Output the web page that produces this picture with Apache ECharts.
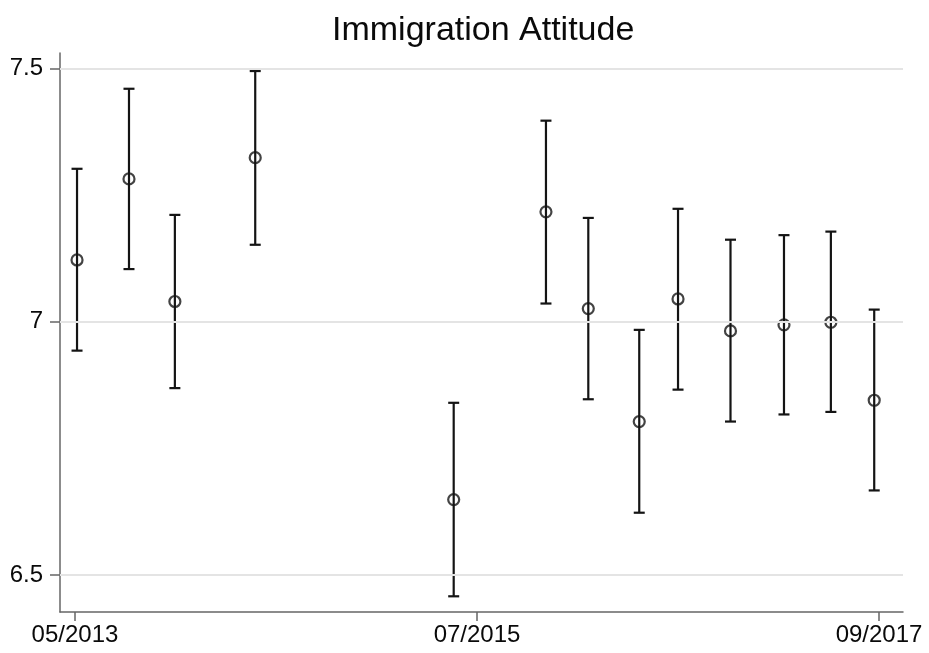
<!DOCTYPE html>
<html>
<head>
<meta charset="utf-8">
<title>Immigration Attitude</title>
<script src="https://cdn.jsdelivr.net/npm/echarts@6/dist/echarts.min.js"></script>
<style>
  html, body { margin: 0; padding: 0; background: #fff; }
  #chart { width: 929px; height: 653px; }
</style>
</head>
<body>
<div id="chart"></div>
<script>
// Survey wave dates
const waveDates = [
  '2013-05-05', '2013-08-16', '2013-11-15', '2014-04-21',
  '2015-05-16', '2015-11-15', '2016-02-07', '2016-05-16',
  '2016-08-01', '2016-11-13', '2017-02-27', '2017-05-28',
  '2017-08-22'
];
// Mean attitude score per wave
const meanScore = [
  7.122, 7.282, 7.040, 7.324,
  6.649, 7.217, 7.026, 6.803,
  7.045, 6.982, 6.994, 6.999,
  6.845
];
// 95% confidence bounds
const upperCI = [
  7.302, 7.460, 7.211, 7.495,
  6.840, 7.397, 7.205, 6.984,
  7.223, 7.162, 7.171, 7.178,
  7.024
];
const lowerCI = [
  6.943, 7.104, 6.869, 7.152,
  6.458, 7.036, 6.847, 6.623,
  6.866, 6.803, 6.817, 6.822,
  6.667
];
// Axis ticks
const xTickLabels = ['05/2013', '07/2015', '09/2017'];
const yTicks = [6.5, 7, 7.5];

// Months elapsed since May 2013
const BASE_YEAR = 2013, BASE_MONTH = 5;
function monthIndex(s) {
  const p = s.split(/[-\/]/).map(Number);
  let y, m, d;
  if (s.indexOf('/') >= 0) { m = p[0]; y = p[1]; d = 1; }
  else { y = p[0]; m = p[1]; d = p[2]; }
  return (y - BASE_YEAR) * 12 + (m - BASE_MONTH) + (d - 1) / 30.5;
}
function monthLabel(v) {
  const total = Math.round(v) + (BASE_MONTH - 1);
  const y = BASE_YEAR + Math.floor(total / 12);
  const m = total % 12 + 1;
  return (m < 10 ? '0' + m : '' + m) + '/' + y;
}

const xTicks = xTickLabels.map(monthIndex);
const pointData = waveDates.map((d, i) => [monthIndex(d), meanScore[i]]);
const barData = waveDates.map((d, i) => [monthIndex(d), lowerCI[i], upperCI[i]]);

const FONT = '"Liberation Sans", Arial, Helvetica, sans-serif';
const INK = '#141414';
const AXIS = '#666666';

const chart = echarts.init(document.getElementById('chart'), null, { renderer: 'canvas' });
chart.setOption({
  animation: false,
  backgroundColor: '#ffffff',
  title: {
    text: 'Immigration Attitude',
    left: 332,
    top: 14,
    padding: 0,
    textStyle: { fontFamily: FONT, fontSize: 34, fontWeight: 'normal', color: '#0a0a0a' }
  },
  grid: { left: 60, right: 26, top: 53, bottom: 41, containLabel: false },
  xAxis: {
    type: 'value',
    min: -0.97,
    max: 53.55,
    axisLine: { show: true, onZero: false, lineStyle: { color: AXIS, width: 1.5 } },
    axisTick: { show: true, length: 9, customValues: xTicks, lineStyle: { color: AXIS, width: 1.5 } },
    axisLabel: {
      customValues: xTicks,
      formatter: monthLabel,
      fontFamily: FONT, fontSize: 24, color: '#0a0a0a', margin: 11
    },
    splitLine: { show: false }
  },
  yAxis: {
    type: 'value',
    min: 6.427,
    max: 7.5306,
    axisLine: { show: true, onZero: false, lineStyle: { color: AXIS, width: 1.5 } },
    axisTick: { show: true, length: 10, customValues: yTicks, lineStyle: { color: AXIS, width: 1.5 } },
    axisLabel: {
      customValues: yTicks,
      formatter: v => String(v),
      fontFamily: FONT, fontSize: 24, color: '#0a0a0a', margin: 17
    },
    splitLine: { show: false }
  },
  series: [
    {
      // horizontal reference lines at the labelled values
      type: 'line',
      data: [],
      silent: true,
      markLine: {
        silent: true,
        symbol: 'none',
        label: { show: false },
        lineStyle: { color: '#e4e4e4', width: 1.8, type: 'solid' },
        data: yTicks.map(v => ({ yAxis: v }))
      },
      z: 1
    },
    {
      // confidence interval whiskers with caps
      type: 'custom',
      data: barData,
      z: 3,
      renderItem: function (params, api) {
        const x = api.value(0);
        const lo = api.coord([x, api.value(1)]);
        const hi = api.coord([x, api.value(2)]);
        const half = 5.5;
        const style = { stroke: INK, lineWidth: 2.2, fill: null };
        return {
          type: 'group',
          children: [
            { type: 'line', shape: { x1: lo[0], y1: lo[1], x2: hi[0], y2: hi[1] }, style: style },
            { type: 'line', shape: { x1: hi[0] - half, y1: hi[1], x2: hi[0] + half, y2: hi[1] }, style: style },
            { type: 'line', shape: { x1: lo[0] - half, y1: lo[1], x2: lo[0] + half, y2: lo[1] }, style: style }
          ]
        };
      }
    },
    {
      // hollow circle at each mean
      type: 'scatter',
      data: pointData,
      symbol: 'circle',
      symbolSize: 11,
      z: 4,
      itemStyle: { color: 'rgba(0,0,0,0)', borderColor: INK, borderWidth: 2.2 }
    }
  ]
});
</script>
</body>
</html>
